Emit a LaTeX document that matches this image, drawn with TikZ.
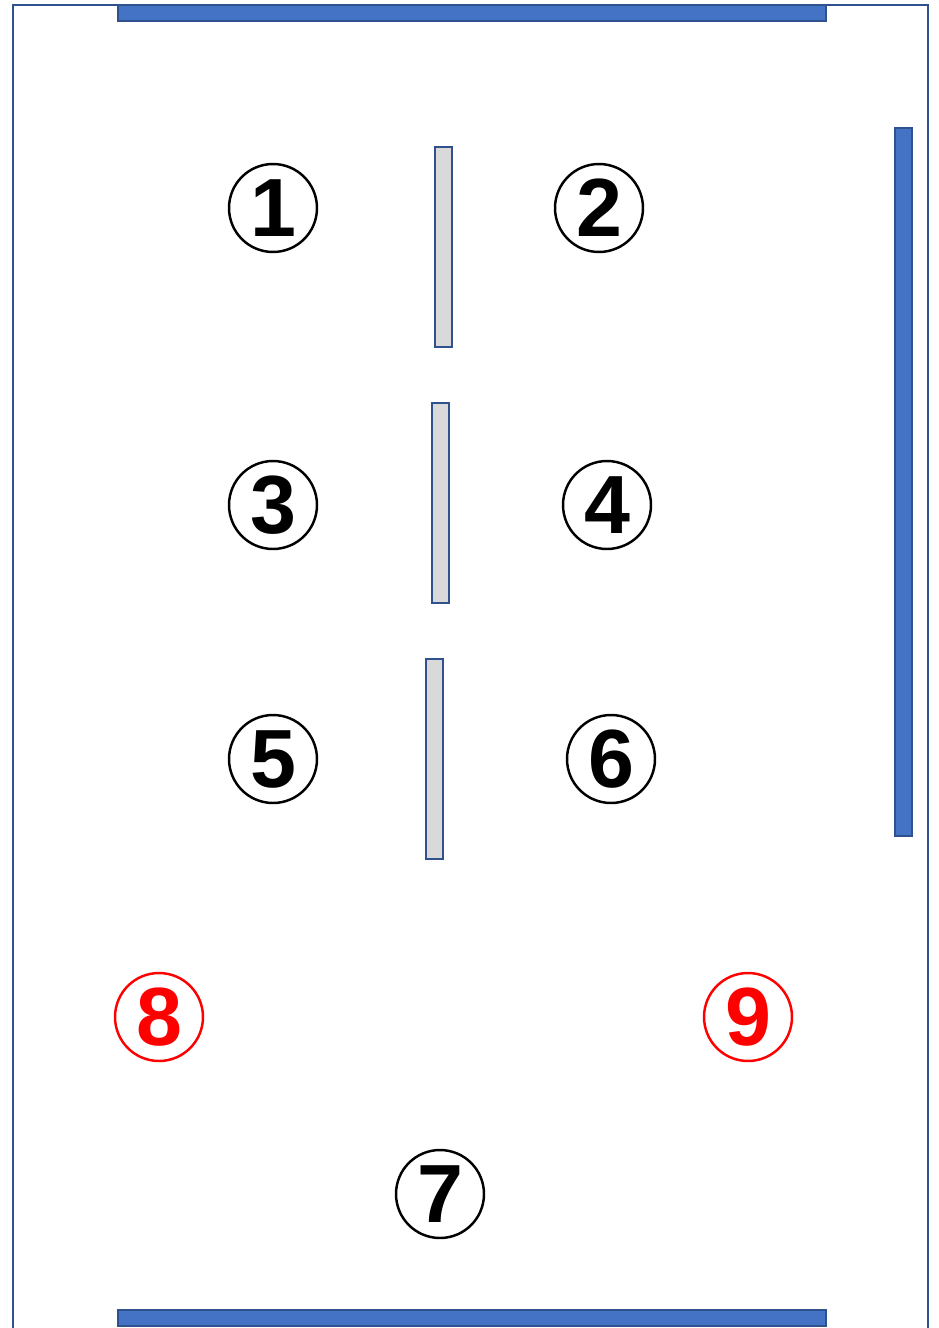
\documentclass[tikz,border=0pt]{standalone}
\usepackage{fontspec}
\setsansfont{Liberation Sans}
\usepackage{tikz}
\usetikzlibrary{positioning}

\definecolor{wallblue}{HTML}{4472C4}
\definecolor{edgeblue}{HTML}{2F528F}
\definecolor{panelgray}{HTML}{D9D9D9}

\begin{document}
\begin{tikzpicture}[x=0.02cm, y=-0.02cm,
    seat/.style={circle, draw, line width=1.4pt, minimum size=1.76cm, inner sep=0pt,
                 font=\sffamily\bfseries\fontsize{47}{47}\selectfont},
    redseat/.style={seat, draw=red, text=red},
    wall/.style={fill=wallblue, draw=edgeblue, line width=1.2pt},
    panel/.style={fill=panelgray, draw=edgeblue, line width=1.1pt}]
    \useasboundingbox (0,0) rectangle (938,1328);
    % room outline and walls
    \draw[edgeblue, line width=1.4pt] (13,1330) -- (13,5) -- (928,5) -- (928,1330);
    \draw[wall] (118,5) rectangle (826,21);
    \draw[wall] (118,1310) rectangle (826,1326);
    \draw[wall] (895,128) rectangle (912,836);
    % partitions
    \draw[panel] (435,147) rectangle (452,347);
    \draw[panel] (432,403) rectangle (449,603);
    \draw[panel] (426,659) rectangle (443,859);
    % seats
    \node[seat] (s1) at (273,208) {1};
    \node[seat] (s2) at (599,208) {2};
    \node[seat] (s3) at (273,505) {3};
    \node[seat] (s4) at (607,505) {4};
    \node[seat] (s5) at (273,759) {5};
    \node[seat] (s6) at (611,759) {6};
    \node[seat] (s7) at (440,1194) {7};
    \node[redseat] (s8) at (159,1017) {8};
    \node[redseat] (s9) at (748,1017) {9};
\end{tikzpicture}
\end{document}
